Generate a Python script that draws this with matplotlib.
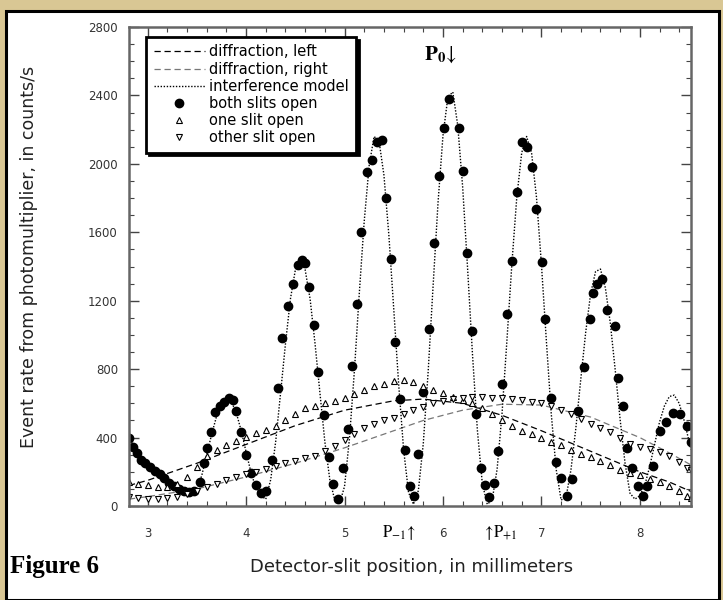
import matplotlib.pyplot as plt
from matplotlib.patches import Rectangle
import matplotlib.transforms as mtransforms
from matplotlib.ticker import MultipleLocator

plt.rcParams['mathtext.fontset'] = 'stix'

# ---- data (mm, counts/s) ----
both_x = [2.81, 2.85, 2.89, 2.93, 2.97, 3.02, 3.07, 3.12, 3.17, 3.22, 3.27, 3.32, 3.37, 3.42, 3.47,
          3.53, 3.57, 3.60, 3.64, 3.68, 3.73, 3.78, 3.83, 3.87, 3.90, 3.95, 4.00, 4.05, 4.10, 4.15,
          4.20, 4.26, 4.32, 4.36, 4.43, 4.48, 4.53, 4.57, 4.60, 4.64, 4.69, 4.73, 4.79, 4.84, 4.88,
          4.93, 4.98, 5.03, 5.08, 5.13, 5.17, 5.23, 5.28, 5.33, 5.38, 5.42, 5.47, 5.51, 5.56, 5.61,
          5.66, 5.71, 5.75, 5.80, 5.86, 5.91, 5.96, 6.01, 6.06, 6.16, 6.20, 6.24, 6.30, 6.34, 6.39,
          6.43, 6.47, 6.52, 6.56, 6.60, 6.65, 6.70, 6.75, 6.80, 6.85, 6.90, 6.95, 7.01, 7.04, 7.10,
          7.15, 7.20, 7.26, 7.31, 7.37, 7.43, 7.49, 7.52, 7.57, 7.62, 7.67, 7.75, 7.78, 7.83, 7.87,
          7.92, 7.98, 8.03, 8.07, 8.13, 8.20, 8.27, 8.34, 8.41, 8.48, 8.52]
both_y = [400, 345, 310, 270, 250, 230, 205, 185, 165, 135, 115, 100, 90, 80, 85,
          140, 250, 340, 430, 550, 585, 610, 630, 620, 555, 430, 300, 190, 120, 75,
          90, 270, 690, 980, 1170, 1300, 1410, 1440, 1420, 1280, 1060, 785, 530, 285, 130,
          40, 225, 450, 820, 1180, 1600, 1950, 2020, 2125, 2140, 1800, 1445, 960, 625, 325,
          115, 60, 305, 665, 1035, 1540, 1930, 2210, 2380, 2210, 1960, 1480, 1025, 540, 225,
          120, 50, 135, 320, 715, 1125, 1435, 1835, 2125, 2100, 1980, 1735, 1425, 1095, 630,
          260, 165, 60, 160, 555, 810, 1095, 1245, 1300, 1325, 1145, 1055, 750, 585, 340,
          225, 115, 60, 115, 235, 440, 490, 545, 540, 470, 375]

slit_x = [2.81, 2.90, 3.00, 3.10, 3.20, 3.30, 3.40, 3.50, 3.60, 3.70, 3.80, 3.90, 4.00, 4.10, 4.20,
          4.30, 4.40, 4.50, 4.60, 4.70, 4.80, 4.90, 5.00, 5.10, 5.20, 5.30, 5.40, 5.50, 5.60, 5.70,
          5.80, 5.90, 6.00, 6.10, 6.20, 6.30, 6.40, 6.50, 6.60, 6.70, 6.80, 6.90, 7.00, 7.10, 7.20,
          7.30, 7.40, 7.50, 7.60, 7.70, 7.80, 7.90, 8.00, 8.10, 8.20, 8.30, 8.40, 8.48, 8.52]
one_y = [140, 130, 120, 110, 110, 130, 170, 230, 290, 330, 355, 380, 405, 425, 445,
         470, 505, 540, 570, 585, 600, 615, 630, 655, 680, 700, 715, 730, 735, 725,
         700, 680, 660, 640, 620, 600, 570, 540, 505, 470, 440, 420, 400, 375, 355,
         330, 305, 285, 265, 240, 210, 195, 180, 160, 140, 115, 90, 60, 45]
other_y = [50, 45, 40, 40, 45, 55, 70, 90, 110, 130, 150, 170, 185, 200, 215,
           235, 250, 265, 280, 295, 320, 350, 385, 420, 455, 480, 500, 515, 535, 560,
           580, 600, 615, 625, 630, 635, 635, 630, 630, 625, 620, 610, 600, 585, 560,
           535, 510, 480, 455, 430, 395, 365, 345, 335, 315, 290, 260, 225, 210]

diff_x = [2.81, 3.0, 3.5, 4.0, 4.5, 5.0, 5.5, 5.8, 6.2, 6.6, 7.0, 7.5, 8.0, 8.3, 8.52]
diff_left = [120, 150, 250, 360, 470, 560, 615, 625, 600, 530, 440, 320, 200, 140, 85]
diff_right = [40, 55, 100, 170, 250, 340, 440, 500, 560, 595, 590, 520, 400, 310, 240]

model_x = [2.81, 2.85, 2.90, 2.95, 3.00, 3.05, 3.10, 3.15, 3.20, 3.25, 3.30, 3.35, 3.40, 3.45,
           3.50, 3.55, 3.60, 3.65, 3.70, 3.75, 3.80, 3.85, 3.90, 3.95, 4.00, 4.05, 4.10, 4.15,
           4.20, 4.25, 4.30, 4.35, 4.40, 4.45, 4.50, 4.55, 4.60, 4.65, 4.70, 4.75, 4.80, 4.85,
           4.90, 4.95, 5.00, 5.05, 5.10, 5.15, 5.20, 5.25, 5.30, 5.35, 5.40, 5.45, 5.50, 5.55,
           5.60, 5.65, 5.70, 5.75, 5.80, 5.85, 5.90, 5.95, 6.00, 6.05, 6.10, 6.15, 6.20, 6.25,
           6.30, 6.35, 6.40, 6.45, 6.50, 6.55, 6.60, 6.65, 6.70, 6.75, 6.80, 6.85, 6.90, 6.95,
           7.00, 7.05, 7.10, 7.15, 7.20, 7.25, 7.30, 7.35, 7.40, 7.45, 7.50, 7.55, 7.60, 7.65,
           7.70, 7.75, 7.80, 7.85, 7.90, 7.95, 8.00, 8.05, 8.10, 8.15, 8.20, 8.25, 8.30, 8.35,
           8.40, 8.45, 8.52]
model_y = [410, 370, 325, 285, 255, 235, 215, 195, 170, 140, 115, 90, 75, 70,
           95, 180, 300, 420, 525, 600, 630, 610, 545, 440, 315, 195, 105, 60,
           40, 155, 375, 660, 950, 1210, 1380, 1440, 1380, 1210, 950, 660, 375, 155,
           35, 15, 115, 395, 790, 1245, 1665, 1990, 2160, 2135, 1935, 1585, 1150, 710,
           330, 80, 10, 90, 365, 790, 1290, 1775, 2165, 2390, 2420, 2225, 1865, 1390,
           885, 440, 130, 10, 35, 215, 540, 970, 1415, 1805, 2065, 2160, 2065, 1805,
           1415, 970, 540, 215, 35, 50, 210, 455, 740, 1015, 1240, 1370, 1385, 1275,
           1070, 795, 505, 250, 75, 40, 60, 120, 230, 360, 490, 585, 640, 648,
           600, 500, 330]

xticks = [3, 4, 5, 6, 7, 8]
yticks = [0, 400, 800, 1200, 1600, 2000, 2400, 2800]
ytick_labels = ['0', '400', '800', '1200', '1600', '2000', '2400', '2800']

# ---- figure ----
fig = plt.figure(figsize=(7.23, 6.0), dpi=100)
fig.patch.set_facecolor('#d9c794')
panel = Rectangle((6 / 723, 0), 713 / 723, 589 / 600, transform=fig.transFigure,
                  facecolor='white', edgecolor='black', linewidth=2.2, zorder=-10)
fig.patches.append(panel)

ax = fig.add_axes([129 / 723, 94 / 600, 562 / 723, 479 / 600])
ax.set_facecolor('white')

ax.plot(diff_x, diff_left, ls=(0, (5, 3)), color='black', lw=0.9, label='diffraction, left')
ax.plot(diff_x, diff_right, ls=(0, (5, 3)), color='#777777', lw=0.9, label='diffraction, right')
ax.plot(model_x, model_y, ls=(0, (1, 1.2)), color='black', lw=1.0, label='interference model')
ax.plot(both_x, both_y, 'o', color='black', ms=6, label='both slits open')
ax.plot(slit_x, one_y, '^', mfc='white', mec='black', mew=0.8, ms=5, label='one slit open')
ax.plot(slit_x, other_y, 'v', mfc='white', mec='black', mew=0.8, ms=5, label='other slit open')

ax.set_xlim(2.81, 8.52)
ax.set_ylim(0, 2800)
ax.set_xticks(xticks)
ax.set_yticks(yticks)
ax.set_yticklabels(ytick_labels)
ax.xaxis.set_minor_locator(MultipleLocator(0.2))
ax.yaxis.set_minor_locator(MultipleLocator(100))
ax.tick_params(which='both', direction='in', top=True, right=True, colors='#444444',
               labelcolor='#333333', labelsize=8.5)
ax.tick_params(which='major', length=7, width=1)
ax.tick_params(which='minor', length=3.5, width=0.8)
ax.tick_params(axis='x', pad=15)
ax.tick_params(axis='y', pad=8)
for s in ax.spines.values():
    s.set_color('#666666')
    s.set_linewidth(1.8)

ax.set_ylabel('Event rate from photomultiplier, in counts/s', fontsize=12.5, color='#222222')
ax.yaxis.set_label_coords(-0.162, 0.52)
fig.text(412 / 723, 1 - 567 / 600, 'Detector-slit position, in millimeters', fontsize=13,
         ha='center', va='center', color='#222222')
fig.text(10 / 723, 1 - 567 / 600, 'Figure 6', fontsize=18, fontweight='bold',
         family='Liberation Serif', ha='left', va='center')

# P markers
ax.text(5.98, 2637, r'$\mathbf{P}_\mathbf{0}\!\downarrow$', fontsize=15, ha='center', va='center')
trans = mtransforms.blended_transform_factory(ax.transData, ax.transAxes)
ax.text(5.55, -0.055, r'$\mathrm{P}_{-1}\!\uparrow$', fontsize=12, ha='center', va='center',
        transform=trans)
ax.text(6.58, -0.055, r'$\uparrow\!\mathrm{P}_{+1}$', fontsize=12, ha='center', va='center',
        transform=trans)

leg = ax.legend(loc='upper left', bbox_to_anchor=(0.018, 0.994), fontsize=10.5, frameon=True,
                fancybox=False, shadow={'color': 'black', 'alpha': 1}, handlelength=3.5,
                labelspacing=0.15, borderpad=0.5, handletextpad=0.3)
leg.get_frame().set_edgecolor('black')
leg.get_frame().set_linewidth(2)
leg.get_frame().set_alpha(1)

fig.savefig('out.png', dpi=100, facecolor=fig.get_facecolor())
